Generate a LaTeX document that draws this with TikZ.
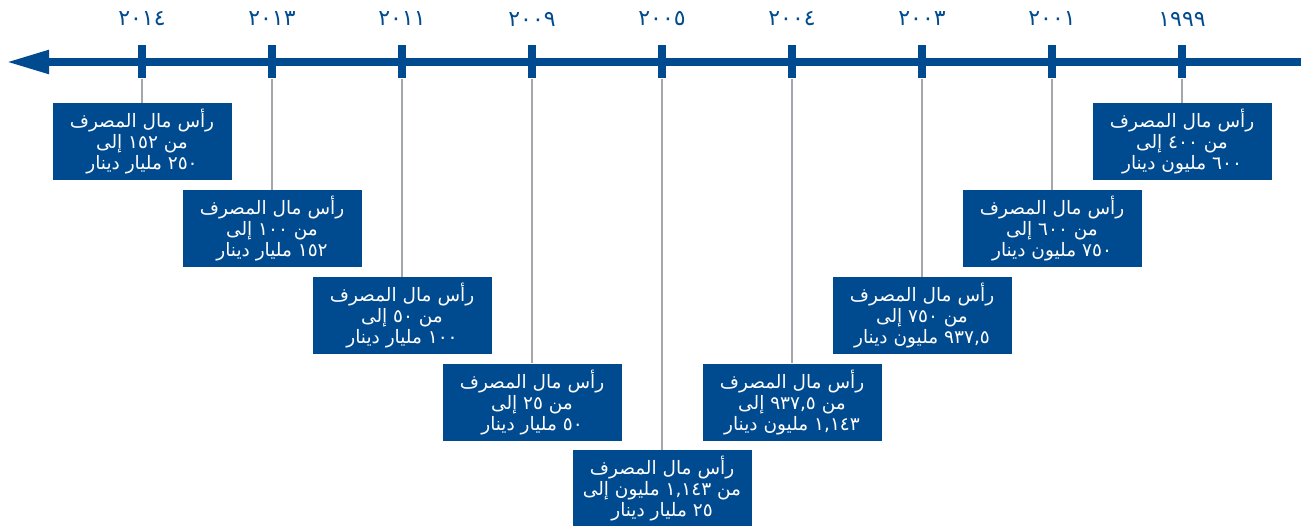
\documentclass[tikz,border=0pt]{standalone}
\usepackage{fontspec}
\usetikzlibrary{arrows.meta}
\newfontfamily\arabicfont[Script=Arabic]{DejaVu Sans}
\TeXXeTstate=1
\definecolor{tlblue}{HTML}{004A8F}
\definecolor{tlgray}{HTML}{A3A6AA}
\newcommand{\arline}[1]{\beginR #1\endR}
\newcommand{\capline}{\arline{رأس مال المصرف}}
\begin{document}
\begin{tikzpicture}[x=1pt,y=-1pt,
  infobox/.style={fill=tlblue, text=white, minimum width=179pt, minimum height=77pt,
    inner sep=0pt, align=center, anchor=north,
    font=\arabicfont\fontsize{18.5}{21}\selectfont},
  yearlabel/.style={text=tlblue, inner sep=0pt, font=\arabicfont\fontsize{22}{22}\selectfont},
  tickmark/.style={fill=tlblue, minimum width=8pt, minimum height=33pt, inner sep=0pt},
  connector/.style={draw=tlgray, line width=2.8pt}]
\useasboundingbox (0,0) rectangle (1301,526);
% axis
\coordinate (tip) at (6,62);
\coordinate (axisend) at (1301,62);
\draw[line width=8pt, tlblue, -{Triangle[length=43pt,width=22pt]}] (axisend) -- (tip);
% ticks
\node[tickmark] (t1) at (142,62) {};
\node[tickmark] (t2) at (272,62) {};
\node[tickmark] (t3) at (402,62) {};
\node[tickmark] (t4) at (532,62) {};
\node[tickmark] (t5) at (662,62) {};
\node[tickmark] (t6) at (792,62) {};
\node[tickmark] (t7) at (922,62) {};
\node[tickmark] (t8) at (1052,62) {};
\node[tickmark] (t9) at (1182,62) {};
% years
\node[yearlabel] (y1) at (142,19) {٢٠١٤};
\node[yearlabel] (y2) at (272,19) {٢٠١٣};
\node[yearlabel] (y3) at (402,19) {٢٠١١};
\node[yearlabel] (y4) at (532,19) {٢٠٠٩};
\node[yearlabel] (y5) at (662,19) {٢٠٠٥};
\node[yearlabel] (y6) at (792,19) {٢٠٠٤};
\node[yearlabel] (y7) at (922,19) {٢٠٠٣};
\node[yearlabel] (y8) at (1052,19) {٢٠٠١};
\node[yearlabel] (y9) at (1182,19) {١٩٩٩};
% boxes
\node[infobox] (b1) at (142,103.3) {\capline\\\arline{من ١٥٢ إلى}\\\arline{٢٥٠ مليار دينار}};
\node[infobox] (b2) at (272,190.3) {\capline\\\arline{من ١٠٠ إلى}\\\arline{١٥٢ مليار دينار}};
\node[infobox] (b3) at (402,277) {\capline\\\arline{من ٥٠ إلى}\\\arline{١٠٠ مليار دينار}};
\node[infobox] (b4) at (532,363.5) {\capline\\\arline{من ٢٥ إلى}\\\arline{٥٠ مليار دينار}};
\node[infobox] (b5) at (662,450) {\capline\\\arline{من ١,١٤٣ مليون إلى}\\\arline{٢٥ مليار دينار}};
\node[infobox] (b6) at (792,363.5) {\capline\\\arline{من ٩٣٧,٥ إلى}\\\arline{١,١٤٣ مليون دينار}};
\node[infobox] (b7) at (922,277) {\capline\\\arline{من ٧٥٠ إلى}\\\arline{٩٣٧,٥ مليون دينار}};
\node[infobox] (b8) at (1052,190.3) {\capline\\\arline{من ٦٠٠ إلى}\\\arline{٧٥٠ مليون دينار}};
\node[infobox] (b9) at (1182,103.3) {\capline\\\arline{من ٤٠٠ إلى}\\\arline{٦٠٠ مليون دينار}};
% connectors
\foreach \i in {1,...,9} {\draw[connector] (t\i.south) -- (b\i.north);}
\end{tikzpicture}
\end{document}
